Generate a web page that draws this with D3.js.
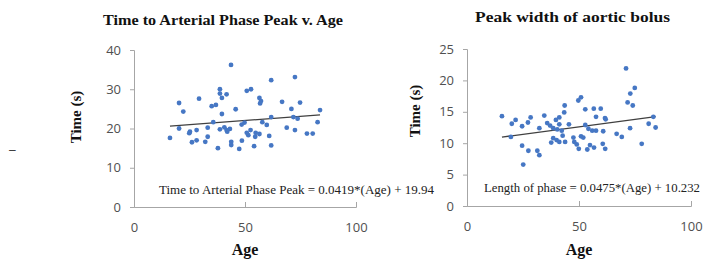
<!DOCTYPE html>
<html>
<head>
<meta charset="utf-8">
<script src="https://cdn.jsdelivr.net/npm/d3@7"></script>
<style>
  body { margin: 0; background: #fff; }
  svg { display: block; }
  .tick text { font-family: "Open Sans", "Liberation Sans", sans-serif; font-size: 13px; fill: #505050; }
  .domain, .tick line { stroke: #a6a6a6; }
</style>
</head>
<body>
<div id="chart"></div>
<script>
// left panel: time to arterial phase peak vs age
const leftAge = [43.7, 72.5, 61.8, 38.7, 52.7, 50.8, 38.7, 41.7, 39.6, 29.3, 56.5, 20.3, 57.2, 56.8, 66.7, 74.8,
  36.9, 35.0, 22.2, 45.8, 70.9, 83.8, 39.6, 61.8, 71.8, 73.7, 35.7, 49.8, 57.8, 59.8, 82.7, 48.5, 20.3, 33.2,
  40.7, 38.7, 41.7, 43.2, 42.0, 68.8, 72.5, 52.5, 28.2, 25.2, 24.9, 50.8, 54.8, 56.5, 51.5, 54.6, 77.9, 80.5,
  60.9, 16.2, 33.2, 28.2, 26.1, 32.1, 43.8, 48.6, 43.8, 37.8, 47.4, 54.1, 61.8];
const leftTime = [36.2, 33.1, 32.3, 30.0, 30.0, 29.6, 28.9, 28.7, 27.8, 27.6, 27.8, 26.5, 27.0, 26.4, 26.8, 26.6,
  26.0, 25.7, 24.3, 24.9, 25.0, 24.7, 23.7, 22.9, 22.9, 22.5, 21.6, 21.5, 21.6, 20.9, 21.6, 21.0, 20.0, 20.2,
  20.3, 19.8, 19.6, 19.9, 19.2, 20.2, 19.6, 19.6, 19.6, 19.2, 18.8, 18.9, 18.9, 18.6, 18.3, 17.9, 18.7, 18.7,
  18.1, 17.6, 17.9, 17.0, 16.5, 16.6, 16.6, 16.9, 15.8, 15.0, 14.8, 15.5, 15.7];

// right panel: peak width of aortic bolus vs age
const rightAge = [71.0, 74.9, 72.9, 71.7, 74.0, 50.9, 49.7, 43.6, 52.8, 56.6, 59.7, 43.4, 15.6, 34.5, 28.4, 41.2,
  39.7, 21.7, 57.6, 61.6, 61.9, 83.2, 27.2, 20.0, 35.8, 37.1, 41.2, 45.5, 52.8, 81.1, 24.6, 32.3, 38.5, 40.3,
  42.3, 54.2, 55.9, 57.6, 60.8, 72.8, 84.2, 66.8, 69.1, 19.6, 42.7, 38.5, 40.0, 41.2, 37.6, 43.8, 47.5, 50.9,
  51.9, 47.9, 49.0, 49.9, 53.7, 54.9, 56.7, 60.6, 61.7, 78.0, 24.6, 27.4, 31.4, 32.3, 25.1];
const rightWidth = [21.9, 18.8, 17.9, 16.5, 16.0, 17.3, 16.8, 16.0, 15.4, 15.5, 15.5, 14.9, 14.3, 14.4, 14.1, 14.1,
  13.7, 13.7, 14.2, 14.0, 13.8, 14.2, 13.3, 13.1, 13.2, 12.8, 13.0, 13.0, 12.9, 13.1, 12.7, 12.4, 12.4, 12.2,
  12.0, 12.3, 12.0, 12.0, 11.9, 12.4, 12.5, 11.5, 11.0, 11.0, 11.2, 10.8, 10.5, 10.2, 10.1, 10.2, 10.9, 11.1,
  10.9, 10.2, 9.8, 9.1, 9.0, 9.7, 9.3, 9.9, 9.1, 9.9, 9.6, 8.8, 8.8, 8.1, 6.6];

const ageTicks = [0, 50, 100];
const leftTicks = [0, 10, 20, 30, 40];
const rightTicks = [0, 5, 10, 15, 20, 25];
const leftFit = [0.0419, 19.94];
const rightFit = [0.0475, 10.232];

const svg = d3.select("#chart").append("svg")
  .attr("width", 704)
  .attr("height", 261);

function panel(p) {
  const x = d3.scaleLinear().domain([0, 100]).range([p.x0, p.x1]);
  const y = d3.scaleLinear().domain([0, p.ymax]).range([p.y0, p.y1]);

  svg.append("g").attr("transform", `translate(${p.x0},0)`)
    .call(d3.axisLeft(y).tickValues(p.yticks).tickSize(4).tickPadding(9));
  svg.append("g").attr("transform", `translate(0,${p.y0})`)
    .call(d3.axisBottom(x).tickValues(ageTicks).tickSizeInner(-5).tickSizeOuter(-5).tickPadding(16));

  // equation label
  svg.append("text")
    .attr("x", p.eqx).attr("y", p.eqy)
    .attr("font-family", "Liberation Serif, serif").attr("font-size", 12)
    .attr("fill", "#222")
    .attr("textLength", p.eqw).attr("lengthAdjust", "spacingAndGlyphs")
    .text(p.eq);

  const a = d3.extent(p.ages);
  svg.append("line")
    .attr("x1", x(a[0])).attr("y1", y(p.fit[0] * a[0] + p.fit[1]))
    .attr("x2", x(a[1])).attr("y2", y(p.fit[0] * a[1] + p.fit[1]))
    .attr("stroke", "#404040").attr("stroke-width", 1.3);

  svg.append("g").selectAll("circle")
    .data(p.ages.map((d, i) => [d, p.vals[i]]))
    .join("circle")
    .attr("cx", d => x(d[0]))
    .attr("cy", d => y(d[1]))
    .attr("r", 2.4)
    .attr("fill", "#4677c4");

  svg.append("text")
    .attr("x", p.tx).attr("y", p.ty)
    .attr("font-family", "Liberation Serif, serif").attr("font-weight", "bold").attr("font-size", 15)
    .attr("fill", "#111")
    .attr("textLength", p.tw).attr("lengthAdjust", "spacingAndGlyphs")
    .text(p.title);

  svg.append("text")
    .attr("x", (p.x0 + p.x1) / 2).attr("y", 255)
    .attr("text-anchor", "middle")
    .attr("font-family", "Liberation Serif, serif").attr("font-weight", "bold").attr("font-size", 16)
    .attr("fill", "#111")
    .text("Age");

  svg.append("text")
    .attr("transform", `translate(${p.lx},${p.ly}) rotate(-90)`)
    .attr("text-anchor", "middle")
    .attr("font-family", "Liberation Serif, serif").attr("font-weight", "bold").attr("font-size", 15)
    .attr("fill", "#111")
    .text("Time (s)");
}

panel({x0: 134, x1: 356, y0: 207, y1: 50, ymax: 40, yticks: leftTicks,
  ages: leftAge, vals: leftTime, fit: leftFit,
  eq: "Time to Arterial Phase Peak = 0.0419*(Age) + 19.94", eqx: 159, eqy: 194, eqw: 275,
  title: "Time to Arterial Phase Peak v. Age", tx: 103, ty: 25, tw: 240, lx: 81, ly: 117});

panel({x0: 467, x1: 691, y0: 206, y1: 49, ymax: 25, yticks: rightTicks,
  ages: rightAge, vals: rightWidth, fit: rightFit,
  eq: "Length of phase = 0.0475*(Age) + 10.232", eqx: 484, eqy: 192, eqw: 216,
  title: "Peak width of aortic bolus", tx: 475, ty: 22, tw: 195, lx: 420, ly: 111});

// stray mark at the left edge of the original
svg.append("text").attr("x", 9).attr("y", 154)
  .attr("font-family", "Liberation Sans, sans-serif").attr("font-size", 12).attr("fill", "#333")
  .text("–");
</script>
</body>
</html>
